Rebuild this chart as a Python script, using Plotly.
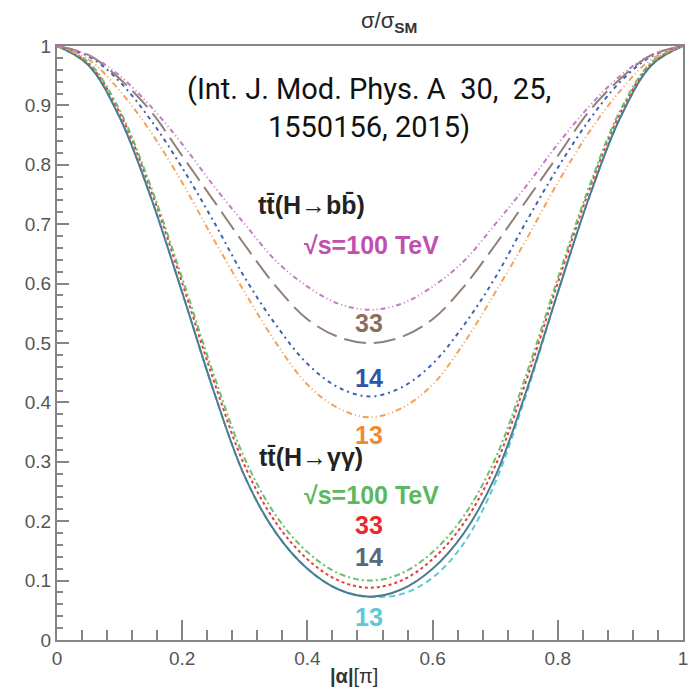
import plotly.graph_objects as go

# x grid (|alpha| in units of pi)
x_vals = [0.0, 0.05, 0.10, 0.15, 0.20, 0.25, 0.30, 0.35, 0.40, 0.45, 0.50,
          0.55, 0.60, 0.65, 0.70, 0.75, 0.80, 0.85, 0.90, 0.95, 1.0]

# ttH(H->bb)
bb_100 = [1.0, 0.985, 0.950, 0.898, 0.835, 0.765, 0.700, 0.638, 0.595, 0.566, 0.556,
          0.566, 0.595, 0.638, 0.700, 0.765, 0.835, 0.898, 0.950, 0.985, 1.0]
bb_33 = [1.0, 0.985, 0.945, 0.890, 0.815, 0.740, 0.665, 0.595, 0.540, 0.510, 0.500,
         0.510, 0.540, 0.595, 0.665, 0.740, 0.815, 0.890, 0.945, 0.985, 1.0]
bb_14 = [1.0, 0.983, 0.940, 0.875, 0.795, 0.705, 0.610, 0.530, 0.465, 0.425, 0.410,
         0.425, 0.465, 0.530, 0.610, 0.705, 0.795, 0.875, 0.940, 0.983, 1.0]
bb_13 = [1.0, 0.978, 0.925, 0.855, 0.770, 0.675, 0.585, 0.500, 0.430, 0.390, 0.375,
         0.390, 0.430, 0.500, 0.585, 0.675, 0.770, 0.855, 0.925, 0.978, 1.0]

# ttH(H->gamma gamma)
gg_100 = [1.0, 0.973, 0.892, 0.763, 0.609, 0.448, 0.305, 0.209, 0.148, 0.112, 0.100,
          0.112, 0.148, 0.209, 0.305, 0.448, 0.609, 0.763, 0.892, 0.973, 1.0]
gg_33 = [1.0, 0.971, 0.888, 0.757, 0.601, 0.438, 0.293, 0.197, 0.136, 0.100, 0.088,
         0.100, 0.136, 0.197, 0.293, 0.438, 0.601, 0.757, 0.888, 0.971, 1.0]
gg_14 = [1.0, 0.968, 0.880, 0.745, 0.585, 0.420, 0.275, 0.180, 0.120, 0.085, 0.073,
         0.085, 0.120, 0.180, 0.275, 0.420, 0.585, 0.745, 0.880, 0.968, 1.0]
gg_13 = [1.0, 0.968, 0.880, 0.745, 0.585, 0.420, 0.275, 0.180, 0.120, 0.085, 0.073,
         0.077, 0.105, 0.163, 0.265, 0.415, 0.585, 0.745, 0.880, 0.968, 1.0]

y_ticks = [0, 0.1, 0.2, 0.3, 0.4, 0.5, 0.6, 0.7, 0.8, 0.9, 1]
x_ticks = [0, 0.2, 0.4, 0.6, 0.8, 1]

series = [
    (gg_13, "#5cc8d8", "6px,4px"),
    (gg_14, "#4a7d8f", "solid"),
    (gg_33, "#e83a3a", "3px,3px"),
    (gg_100, "#6cbf6c", "6px,3px,2px,3px"),
    (bb_13, "#f3a25a", "6px,3px,1px,3px,1px,3px"),
    (bb_14, "#3f62b5", "2px,4px,4px,4px"),
    (bb_33, "#8f8078", "22px,8px"),
    (bb_100, "#c47ac4", "5px,3px,1px,3px,1px,3px"),
]

fig = go.Figure()
for ys, col, dash in series:
    fig.add_trace(go.Scatter(x=x_vals, y=ys, mode="lines",
                             line=dict(color=col, width=2, dash=dash, shape="spline", smoothing=1.0),
                             showlegend=False, hoverinfo="skip"))

SANS = "Liberation Sans"
axis_common = dict(range=[0, 1], showline=True, mirror=True, linecolor="#858585", linewidth=2,
                   showgrid=False, zeroline=False, ticks="inside", tickcolor="#858585",
                   tickwidth=1.5,
                   tickfont=dict(family=SANS, size=19, color="#555"))

fig.update_xaxes(**axis_common, tickvals=x_ticks, ticklen=20,
                 minor=dict(ticks="inside", dtick=0.04, tick0=0, ticklen=10, tickcolor="#858585", tickwidth=1.5))
fig.update_yaxes(**axis_common, tickvals=y_ticks, ticklen=12,
                 minor=dict(ticks="inside", dtick=0.02, tick0=0, ticklen=6, tickcolor="#858585", tickwidth=1.5))

ann = []
def add(text, x, y, color, size, bold=True, family=SANS):
    ann.append(dict(text=("<b>%s</b>" % text) if bold else text, x=x, y=y, xref="x", yref="y",
                    showarrow=False, font=dict(family=family, size=size, color=color),
                    xanchor="center", yanchor="middle"))

add("(Int. J. Mod. Phys. A  30,  25,<br>1550156, 2015)", 0.498, 0.896, "#111", 29, bold=False,
    family="Roboto")
add("tt\u0304(H\u2192bb\u0304)", 0.406, 0.732, "#222", 25)
add("\u221as=100 TeV", 0.503, 0.665, "#c050b0", 25)
add("33", 0.498, 0.534, "#8a6e60", 25)
add("14", 0.498, 0.441, "#2f55a8", 25)
add("13", 0.498, 0.345, "#f08a30", 25)
add("tt\u0304(H\u2192\u03b3\u03b3)", 0.406, 0.308, "#222", 25)
add("\u221as=100 TeV", 0.503, 0.244, "#5cb85c", 25)
add("33", 0.498, 0.194, "#e82a2a", 25)
add("14", 0.498, 0.140, "#55697a", 25)
add("13", 0.498, 0.039, "#5cc8d8", 25)

ann.append(dict(text="\u03c3/\u03c3<sub><b>SM</b></sub>", x=0.53, y=1.0, xref="paper", yref="paper",
                yshift=24, showarrow=False, xanchor="center", yanchor="middle",
                font=dict(family=SANS, size=22, color="#333")))
ann.append(dict(text="<b>|\u03b1|</b>[\u03c0]", x=0.475, y=0, xref="paper", yref="paper",
                yshift=-36, showarrow=False, xanchor="center", yanchor="middle",
                font=dict(family=SANS, size=20, color="#333")))

fig.update_layout(width=700, height=691, margin=dict(l=57, r=15, t=46, b=51),
                  plot_bgcolor="white", paper_bgcolor="white", annotations=ann)

fig.write_html("out.html")
